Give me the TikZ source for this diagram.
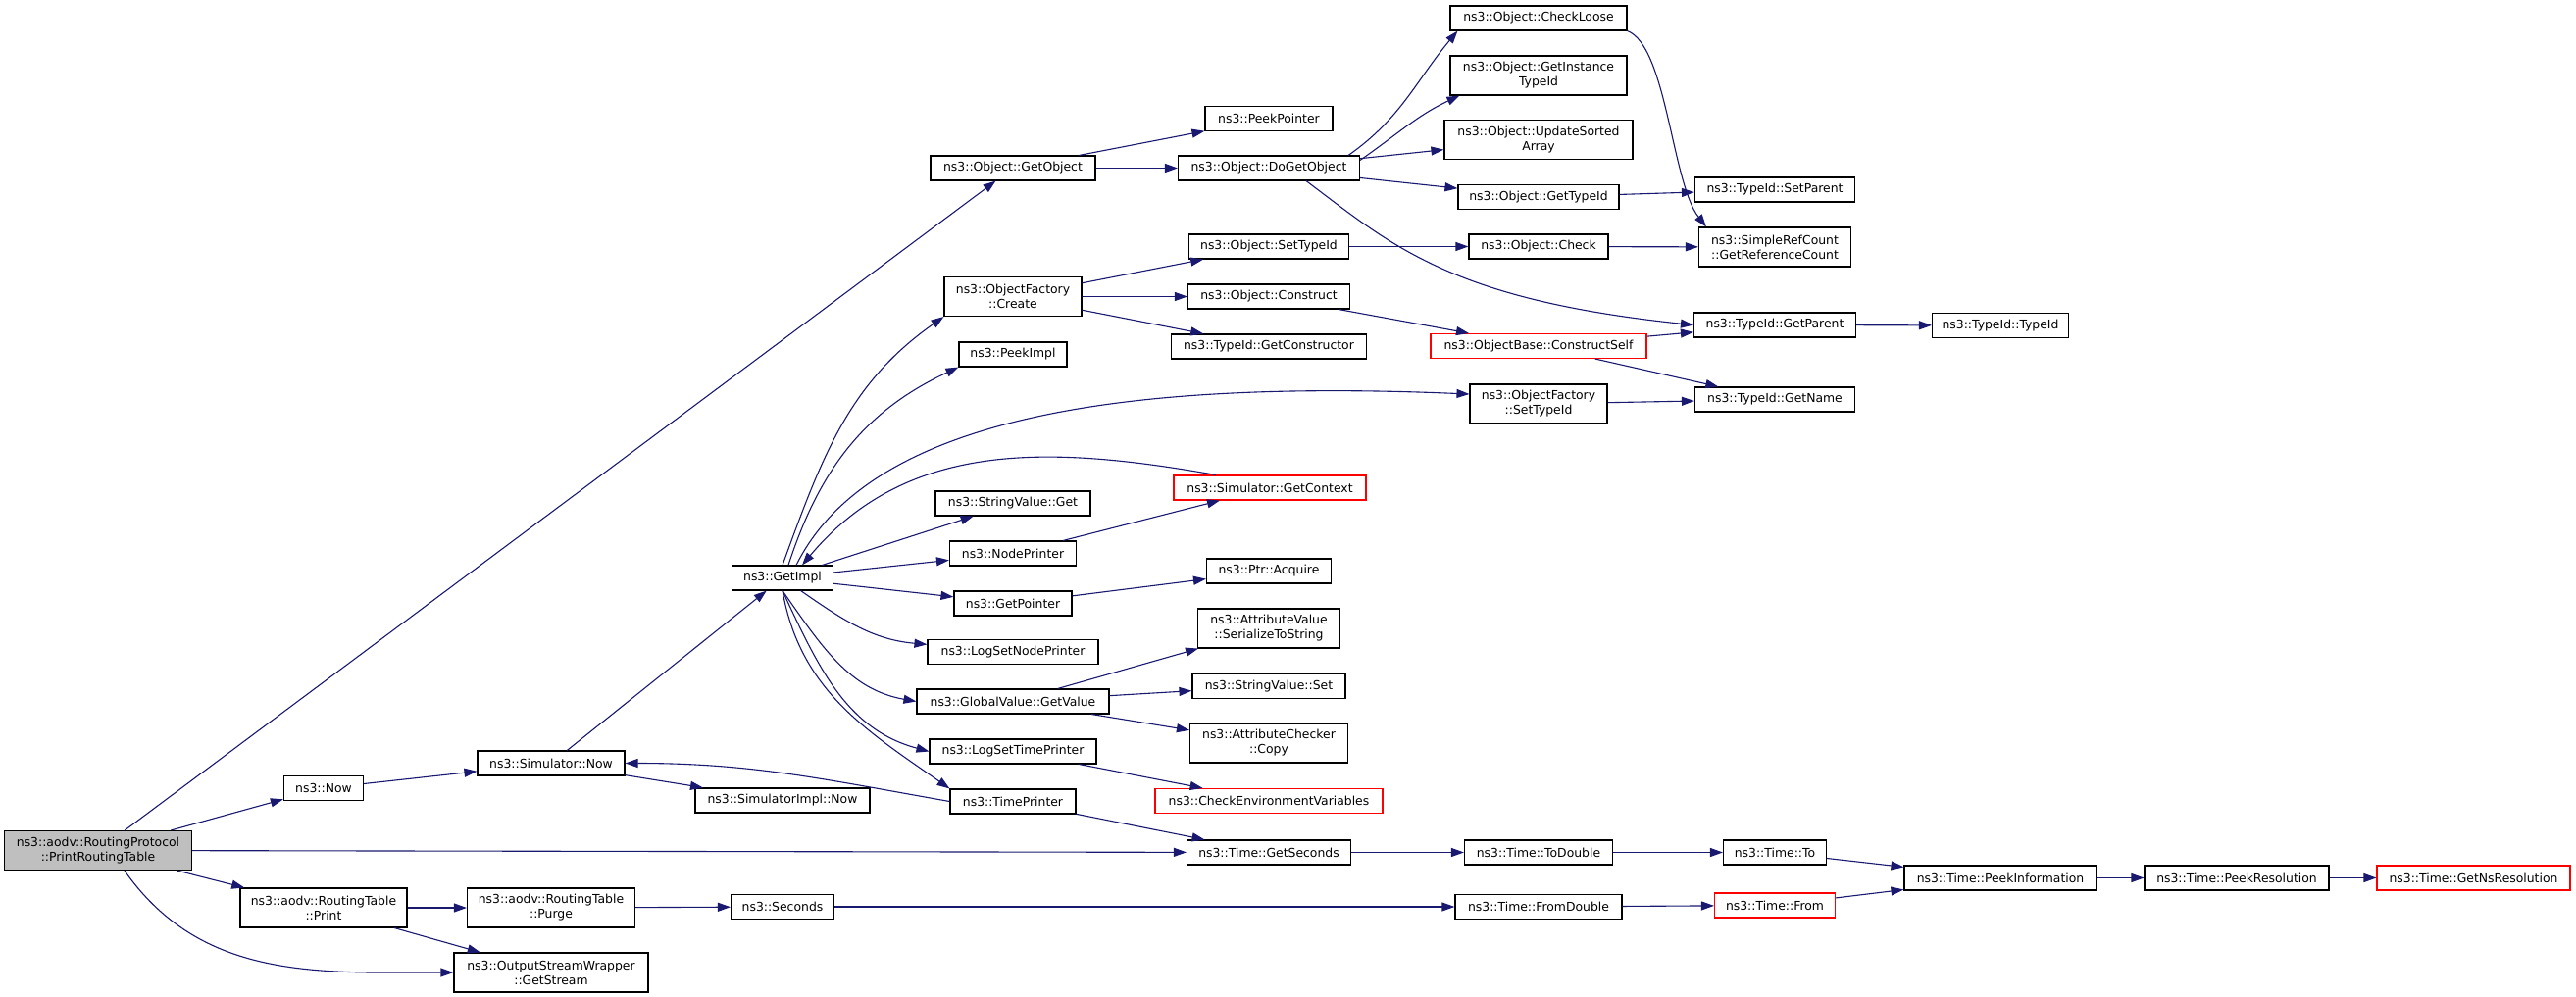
\documentclass[tikz,border=0pt]{standalone}
\usepackage{fontspec}
\setmainfont{DejaVu Sans}
\usetikzlibrary{arrows.meta}
\definecolor{edgeblue}{HTML}{191970}
\definecolor{rootgray}{HTML}{BFBFBF}
\tikzset{
  fn/.style={draw=black, line width=1.1pt, fill=white, minimum height=25pt,
    inner xsep=4pt, inner ysep=2pt, align=center,
    font=\fontsize{12.4}{15}\selectfont},
  fnroot/.style={fn, fill=rootgray},
  fnred/.style={fn, draw=red},
  tall/.style={minimum height=40pt},
  call/.style={draw=edgeblue, line width=1.1pt, -{Triangle[length=13pt,width=9pt]}},
}
\begin{document}
\begin{tikzpicture}[x=1pt, y=1pt]
  \useasboundingbox (0,0) rectangle (2627,-1017);

  \node[fnroot, tall, minimum width=191] (prt)            at (100,-867.5)  {ns3::aodv::RoutingProtocol\\::PrintRoutingTable};
  \node[fn, minimum width=81]            (now)            at (330,-804)    {ns3::Now};
  \node[fn, tall, minimum width=170]     (print)          at (330,-926)    {ns3::aodv::RoutingTable\\::Print};
  \node[fn, minimum width=150]           (simnow)         at (562,-778.5)  {ns3::Simulator::Now};
  \node[fn, tall, minimum width=171]     (purge)          at (562,-926)    {ns3::aodv::RoutingTable\\::Purge};
  \node[fn, tall, minimum width=198]     (getstream)      at (562,-992)    {ns3::OutputStreamWrapper\\::GetStream};
  \node[fn, minimum width=103]           (getimpl)        at (798,-589.5)  {ns3::GetImpl};
  \node[fn, minimum width=178]           (simimplnow)     at (798,-816.5)  {ns3::SimulatorImpl::Now};
  \node[fn, minimum width=105]           (seconds)        at (798,-925)    {ns3::Seconds};

  \node[fn, minimum width=168]           (getobject)      at (1033,-171.5) {ns3::Object::GetObject};
  \node[fn, tall, minimum width=140]     (create)         at (1033,-302.5) {ns3::ObjectFactory\\::Create};
  \node[fn, minimum width=110]           (peekimpl)       at (1033,-361.5) {ns3::PeekImpl};
  \node[fn, minimum width=158]           (strget)         at (1033,-513.5) {ns3::StringValue::Get};
  \node[fn, minimum width=129]           (nodeprinter)    at (1033,-564.5) {ns3::NodePrinter};
  \node[fn, minimum width=120]           (getpointer)     at (1033,-615.5) {ns3::GetPointer};
  \node[fn, minimum width=174]           (logsetnode)     at (1033,-665)   {ns3::LogSetNodePrinter};
  \node[fn, minimum width=196]           (getvalue)       at (1033,-715.5) {ns3::GlobalValue::GetValue};
  \node[fn, minimum width=170]           (logsettime)     at (1033,-766.5) {ns3::LogSetTimePrinter};
  \node[fn, minimum width=128]           (timeprinter)    at (1033,-817.5) {ns3::TimePrinter};

  \node[fn, minimum width=130]           (peekpointer)    at (1294,-121)   {ns3::PeekPointer};
  \node[fn, minimum width=185]           (dogetobject)    at (1294,-171.5) {ns3::Object::DoGetObject};
  \node[fn, minimum width=163]           (settypeid)      at (1294,-251.5) {ns3::Object::SetTypeId};
  \node[fn, minimum width=165]           (construct)      at (1294,-302.5) {ns3::Object::Construct};
  \node[fn, minimum width=199]           (getconstructor) at (1294,-353.5) {ns3::TypeId::GetConstructor};
  \node[fnred, minimum width=196]        (getcontext)     at (1295,-497.5) {ns3::Simulator::GetContext};
  \node[fn, minimum width=127]           (acquire)        at (1294,-582.5) {ns3::Ptr::Acquire};
  \node[fn, tall, minimum width=145]     (serialize)      at (1294,-641)   {ns3::AttributeValue\\::SerializeToString};
  \node[fn, minimum width=156]           (strset)         at (1294,-700)   {ns3::StringValue::Set};
  \node[fn, tall, minimum width=161]     (checkercopy)    at (1294,-758)   {ns3::AttributeChecker\\::Copy};
  \node[fnred, minimum width=232]        (checkenv)       at (1294,-817)   {ns3::CheckEnvironmentVariables};
  \node[fn, minimum width=167]           (getseconds)     at (1294,-869.5) {ns3::Time::GetSeconds};

  \node[fn, minimum width=180]           (checkloose)     at (1569,-18.5)  {ns3::Object::CheckLoose};
  \node[fn, tall, minimum width=180]     (instancetypeid) at (1569,-77)    {ns3::Object::GetInstance\\TypeId};
  \node[fn, tall, minimum width=192]     (updatesorted)   at (1569,-142.5) {ns3::Object::UpdateSorted\\Array};
  \node[fn, minimum width=164]           (gettypeid)      at (1569,-201)   {ns3::Object::GetTypeId};
  \node[fn, minimum width=142]           (check)          at (1569,-251.5) {ns3::Object::Check};
  \node[fnred, minimum width=220]        (constructself)  at (1569,-353)   {ns3::ObjectBase::ConstructSelf};
  \node[fn, tall, minimum width=140]     (factsettypeid)  at (1569,-412)   {ns3::ObjectFactory\\::SetTypeId};
  \node[fn, minimum width=151]           (todouble)       at (1569,-869.5) {ns3::Time::ToDouble};
  \node[fn, minimum width=170]           (fromdouble)     at (1569,-925)   {ns3::Time::FromDouble};

  \node[fn, minimum width=163]           (setparent)      at (1810,-193.5) {ns3::TypeId::SetParent};
  \node[fn, tall, minimum width=155]     (refcount)       at (1810,-252)   {ns3::SimpleRefCount\\::GetReferenceCount};
  \node[fn, minimum width=165]           (getparent)      at (1810,-331.5) {ns3::TypeId::GetParent};
  \node[fn, minimum width=163]           (getname)        at (1810,-407.5) {ns3::TypeId::GetName};
  \node[fn, minimum width=105]           (timeto)         at (1810,-869.5) {ns3::Time::To};
  \node[fnred, minimum width=123]        (timefrom)       at (1810,-923.5) {ns3::Time::From};
  \node[fn, minimum width=139]           (typeidtypeid)   at (2040,-332)   {ns3::TypeId::TypeId};
  \node[fn, minimum width=196]           (peekinfo)       at (2040,-895.5) {ns3::Time::PeekInformation};
  \node[fn, minimum width=188]           (peekres)        at (2281,-895.5) {ns3::Time::PeekResolution};
  \node[fnred, minimum width=197]        (getns)          at (2522.5,-895.5) {ns3::Time::GetNsResolution};

  \foreach \t in {getobject, now, getseconds, print} \draw[call] (prt) -- (\t);
  \draw[call] ([xshift=27pt]prt.south) to[out=-55, in=180] (getstream.west);
  \draw[call] (now) -- (simnow);
  \foreach \t in {getimpl, simimplnow} \draw[call] (simnow) -- (\t);
  \draw[call] (print) -- (purge);
  \draw[call] (print) -- (getstream);
  \draw[call] (purge) -- (seconds);
  \draw[call] (seconds) -- (fromdouble);
  \draw[call] (fromdouble) -- (timefrom);
  \draw[call] (timefrom) -- (peekinfo);
  \draw[call] (getseconds) -- (todouble);
  \draw[call] (todouble) -- (timeto);
  \draw[call] (timeto) -- (peekinfo);
  \draw[call] (peekinfo) -- (peekres);
  \draw[call] (peekres) -- (getns);

  \foreach \t in {peekpointer, dogetobject} \draw[call] (getobject) -- (\t);
  \draw[call] ([xshift=-12pt]dogetobject.north east) to[out=35, in=-130] ([xshift=8pt]checkloose.south west);
  \draw[call] ([yshift=-5pt]dogetobject.north east) to[out=35, in=-155] ([xshift=10pt]instancetypeid.south west);
  \foreach \t in {updatesorted, gettypeid} \draw[call] (dogetobject) -- (\t);
  \draw[call] ([xshift=38pt]dogetobject.south) .. controls +(88,-66) and +(-248,26) .. (getparent.west);
  \draw[call] (checkloose.south east) .. controls +(40,-15) and +(-35,45) .. ([xshift=8pt]refcount.north west);
  \draw[call] (gettypeid) -- (setparent);
  \draw[call] (check) -- (refcount);
  \draw[call] (settypeid) -- (check);
  \foreach \t in {settypeid, construct, getconstructor} \draw[call] (create) -- (\t);
  \draw[call] (construct) -- (constructself);
  \foreach \t in {getparent, getname} \draw[call] (constructself) -- (\t);
  \draw[call] (factsettypeid) -- (getname);
  \draw[call] (getparent) -- (typeidtypeid);

  \draw[call] (getimpl.north) to[out=70, in=-145] (create.south west);
  \draw[call] ([xshift=6pt]getimpl.north) to[out=72, in=-155] (peekimpl.south west);
  \draw[call] ([xshift=14pt]getimpl.north) .. controls (880,-440) and (1100,-385) .. ([yshift=10pt]factsettypeid.west);
  \draw[call] ([xshift=-55pt]getcontext.north) to[out=170, in=50] ([xshift=20pt]getimpl.north);
  \foreach \t in {strget, nodeprinter, getpointer} \draw[call] (getimpl) -- (\t);
  \draw[call] (getimpl) to[out=-35, in=175] (logsetnode);
  \draw[call] (getimpl.south) to[out=-55, in=170] (getvalue.west);
  \draw[call] (getimpl.south) to[out=-65, in=165] (logsettime.west);
  \draw[call] (getimpl.south) to[out=-80, in=145] (timeprinter.north west);
  \draw[call] (nodeprinter) -- (getcontext);
  \draw[call] (getpointer) -- (acquire);
  \foreach \t in {serialize, strset, checkercopy} \draw[call] (getvalue) -- (\t);
  \draw[call] (logsettime) -- (checkenv);
  \draw[call] (timeprinter.west) to[out=170, in=0] (simnow.east);
  \draw[call] (timeprinter) -- (getseconds);
\end{tikzpicture}
\end{document}
